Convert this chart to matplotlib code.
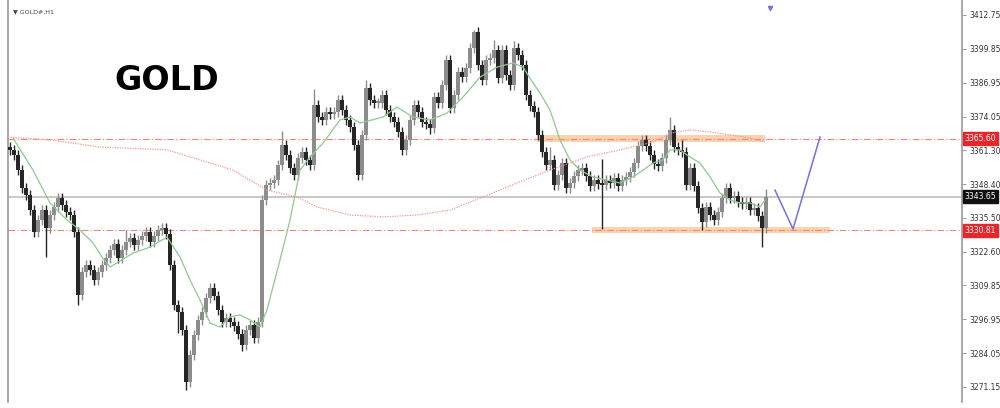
import numpy as np
import matplotlib.pyplot as plt
import matplotlib.transforms as mtransforms

# hourly closes (one per candle)
closes = [
    3361.4, 3359.5, 3353.7, 3346.9, 3344.2, 3338.5, 3330.1, 3334.7, 3338.5, 3331.7,
    3336.6, 3339.7, 3343.1, 3340.4, 3337.8, 3336.6, 3330.1, 3306.2, 3315.0, 3317.6,
    3315.7, 3311.9, 3315.0, 3317.6, 3320.3, 3323.3, 3325.6, 3320.3, 3323.3, 3326.3,
    3327.8, 3325.2, 3327.1, 3328.6, 3330.1, 3326.3, 3328.6, 3330.9, 3331.7, 3329.4,
    3317.6, 3302.4, 3299.7, 3292.8, 3273.0, 3283.3, 3290.9, 3296.7, 3299.7, 3305.1,
    3308.9, 3305.9, 3300.5, 3295.9, 3297.4, 3295.9, 3294.4, 3291.3, 3287.1, 3292.8,
    3294.7, 3289.8, 3295.9, 3342.3, 3348.0, 3348.8, 3349.9, 3355.6, 3363.3, 3359.5,
    3354.5, 3351.8, 3358.3, 3360.6, 3357.6, 3355.6, 3378.5, 3373.9, 3372.8, 3375.8,
    3375.0, 3375.8, 3380.4, 3376.6, 3372.8, 3370.1, 3363.3, 3351.8, 3367.1, 3385.0,
    3380.4, 3379.3, 3379.3, 3382.3, 3376.6, 3373.9, 3372.0, 3368.2, 3361.4, 3365.2,
    3372.8, 3378.5, 3375.8, 3372.0, 3371.3, 3369.7, 3381.5, 3379.3, 3386.1, 3395.6,
    3377.3, 3382.3, 3391.0, 3389.1, 3392.6, 3400.2, 3406.3, 3393.7, 3388.0, 3395.6,
    3396.4, 3399.4, 3388.8, 3399.4, 3389.9, 3386.1, 3400.2, 3397.5, 3393.7, 3382.3,
    3378.1, 3375.8, 3367.1, 3360.6, 3355.6, 3357.6, 3348.0, 3351.8, 3356.4, 3346.9,
    3348.8, 3351.4, 3353.7, 3354.5, 3351.4, 3347.6, 3349.9, 3348.4, 3348.0, 3349.9,
    3348.8, 3350.7, 3347.6, 3349.9, 3351.1, 3353.0, 3356.4, 3362.9, 3365.2, 3362.9,
    3359.5, 3356.0, 3355.2, 3358.3, 3365.2, 3369.0, 3362.5, 3361.4, 3360.6, 3348.0,
    3354.5, 3347.6, 3339.3, 3334.0, 3339.7, 3336.6, 3334.7, 3337.8, 3343.1, 3346.9,
    3343.1, 3343.8, 3341.6, 3340.8, 3341.6, 3338.5, 3339.3, 3336.2, 3331.7, 3343.65,
]
first_open = 3362.6

# long wicks (candle index -> price)
spike_highs = {29: 3330.9, 68: 3368.6, 76: 3384.6, 89: 3388.0, 109: 3397.5, 116: 3407.0,
               121: 3403.2, 126: 3403.0, 135: 3362.5, 148: 3358.0, 165: 3373.9,
               168: 3365.2, 189: 3346.5}
spike_lows = {9: 3320.6, 17: 3302.4, 42: 3291.7, 44: 3270.0, 58: 3285.0, 87: 3350.0,
              98: 3359.5, 105: 3367.5, 148: 3331.3, 173: 3330.9, 188: 3324.4}

# moving averages (candle index, price)
fast_idx = [0.75, 5.75, 10, 14.25, 17.5, 20.75, 23, 25, 30.75, 35, 39.25, 42.5, 45, 47.5, 50,
            52.5, 55, 57.5, 60, 62.5, 64.25, 67.5, 70, 72.5, 75, 78.25, 82.5, 85, 87.5, 93.25,
            96.75, 100.75, 105, 109.25, 113.25, 117.5, 121.75, 125.75, 128.25, 130.75, 132.5,
            135, 137.5, 140, 142.5, 145.75, 149.25, 152.5, 155.75, 158.25, 160.75, 163.25,
            165, 167.5, 170, 172.5, 175, 177.5, 180, 182.5, 185, 187.5, 188.75]
fast_val = [3365.9, 3353.7, 3341.2, 3334.7, 3330.9, 3326.0, 3320.6, 3316.8, 3322.1, 3324.4,
            3328.2, 3320.6, 3311.9, 3304.3, 3295.5, 3294.0, 3297.8, 3298.6, 3296.7, 3294.0,
            3300.5, 3319.5, 3334.7, 3353.7, 3358.7, 3364.0, 3372.8, 3373.9, 3371.6, 3373.9,
            3377.7, 3373.9, 3372.8, 3375.4, 3381.5, 3389.1, 3392.9, 3394.5, 3392.9, 3386.9,
            3383.1, 3376.6, 3365.2, 3357.6, 3353.7, 3351.1, 3349.9, 3348.8, 3351.1, 3353.7,
            3356.4, 3357.6, 3361.4, 3361.4, 3358.7, 3356.4, 3351.1, 3345.0, 3342.3, 3341.2,
            3341.2, 3339.7, 3342.3]
slow_idx = [-0.5, 10, 22.5, 39.25, 47.5, 55.75, 64.25, 71.75, 76.75, 85, 93.25, 101.75, 110,
            118.25, 126.75, 135, 144.25, 152.5, 160.75, 165, 170, 175, 180, 185, 188.75]
slow_val = [3366.3, 3365.2, 3362.5, 3361.4, 3357.6, 3353.7, 3346.1, 3343.5, 3339.7, 3336.6,
            3335.9, 3336.6, 3338.5, 3343.5, 3348.8, 3353.7, 3358.7, 3361.4, 3364.4, 3367.8,
            3369.0, 3368.2, 3367.1, 3365.9, 3364.4]

# levels and projection
resistance = 3365.60
support = 3330.81
last_price = 3343.65
proj_idx = [191.25, 195.75, 202.5]
proj_val = [3346.1, 3331.3, 3366.3]
ytick_vals = [3412.75, 3399.85, 3386.95, 3374.05, 3361.30, 3348.40, 3335.50,
              3322.60, 3309.85, 3296.95, 3284.05, 3271.15]

fig = plt.figure(figsize=(10, 4.08), dpi=100)
ax = fig.add_axes([0.008, 6 / 408, 0.954, 402 / 408])

n = len(closes)
x = np.arange(n)
c = np.array(closes)
o = np.concatenate([[first_open], c[:-1]])
hi = np.maximum(o, c) + 1.8
lo = np.minimum(o, c) - 1.8
for k, v in spike_highs.items():
    hi[k] = v
for k, v in spike_lows.items():
    lo[k] = v
bull = c >= o
cols = np.where(bull, '#8c8c8c', '#262626')

# zones
ax.fill_between([131.75, 188.75], 3364.5, 3366.9, color='#fbc89a', alpha=0.8, lw=0, zorder=1)
ax.fill_between([145.5, 205], 3329.6, 3332.2, color='#fbc89a', alpha=0.8, lw=0, zorder=1)

# horizontal lines
ax.axhline(last_price, color='#c8c8c8', lw=1.4, zorder=1)
for lvl in [resistance, support]:
    ax.axhline(lvl, color='#f08578', lw=0.8, ls=(0, (6, 2, 1, 2)), zorder=2)

# candles
ax.vlines(x, lo, hi, colors=cols, lw=1.0, zorder=3)
body = np.abs(c - o)
body = np.where(body < 0.8, 0.8, body)
ax.bar(x, body, bottom=np.minimum(o, c), width=0.8, color=cols, lw=0, zorder=4)

# moving averages
ax.plot(fast_idx, fast_val, color='#8fc98f', lw=0.9, zorder=5)
ax.plot(slow_idx, slow_val, color='#f29a94', lw=0.9, ls=(0, (1, 1)), zorder=5)

# projection
ax.plot(proj_idx, proj_val, color='#6f72e0', lw=1.1, zorder=6)
ax.plot([190], [3415.6], marker='v', ms=3, color='#6f72e0', clip_on=False)

ax.set_xlim(-0.5, 238)
ax.set_ylim(3265.43, 3418.46)

ax.yaxis.tick_right()
ax.set_yticks(ytick_vals)
ax.set_yticklabels(['%.2f' % v for v in ytick_vals])
ax.tick_params(axis='y', length=3, width=0.6, colors='#888888', labelsize=5.5,
               labelcolor='#333333', pad=2)
ax.set_xticks([])
for s in ['top', 'bottom']:
    ax.spines[s].set_visible(False)
for s in ['left', 'right']:
    ax.spines[s].set_color('#999999')
    ax.spines[s].set_linewidth(1.2)

trans = mtransforms.blended_transform_factory(ax.transAxes, ax.transData)
for val, bg in [(resistance, '#e8262a'), (support, '#e8262a'), (last_price, '#111111')]:
    ax.text(1.003, val, '%.2f' % val, transform=trans, fontsize=5.5, color='white',
            va='center', ha='left', clip_on=False,
            bbox=dict(boxstyle='square,pad=0.25', fc=bg, ec=bg))

ax.text(0.005, 0.97, '\u25bc GOLD#,H1', transform=ax.transAxes, fontsize=4.5,
        color='#444444', va='center', ha='left')
fig.text(0.167, 1 - 80 / 408, 'GOLD', fontsize=24, fontweight='bold', color='black',
         ha='center', va='center')

fig.savefig('out.png', dpi=100)
